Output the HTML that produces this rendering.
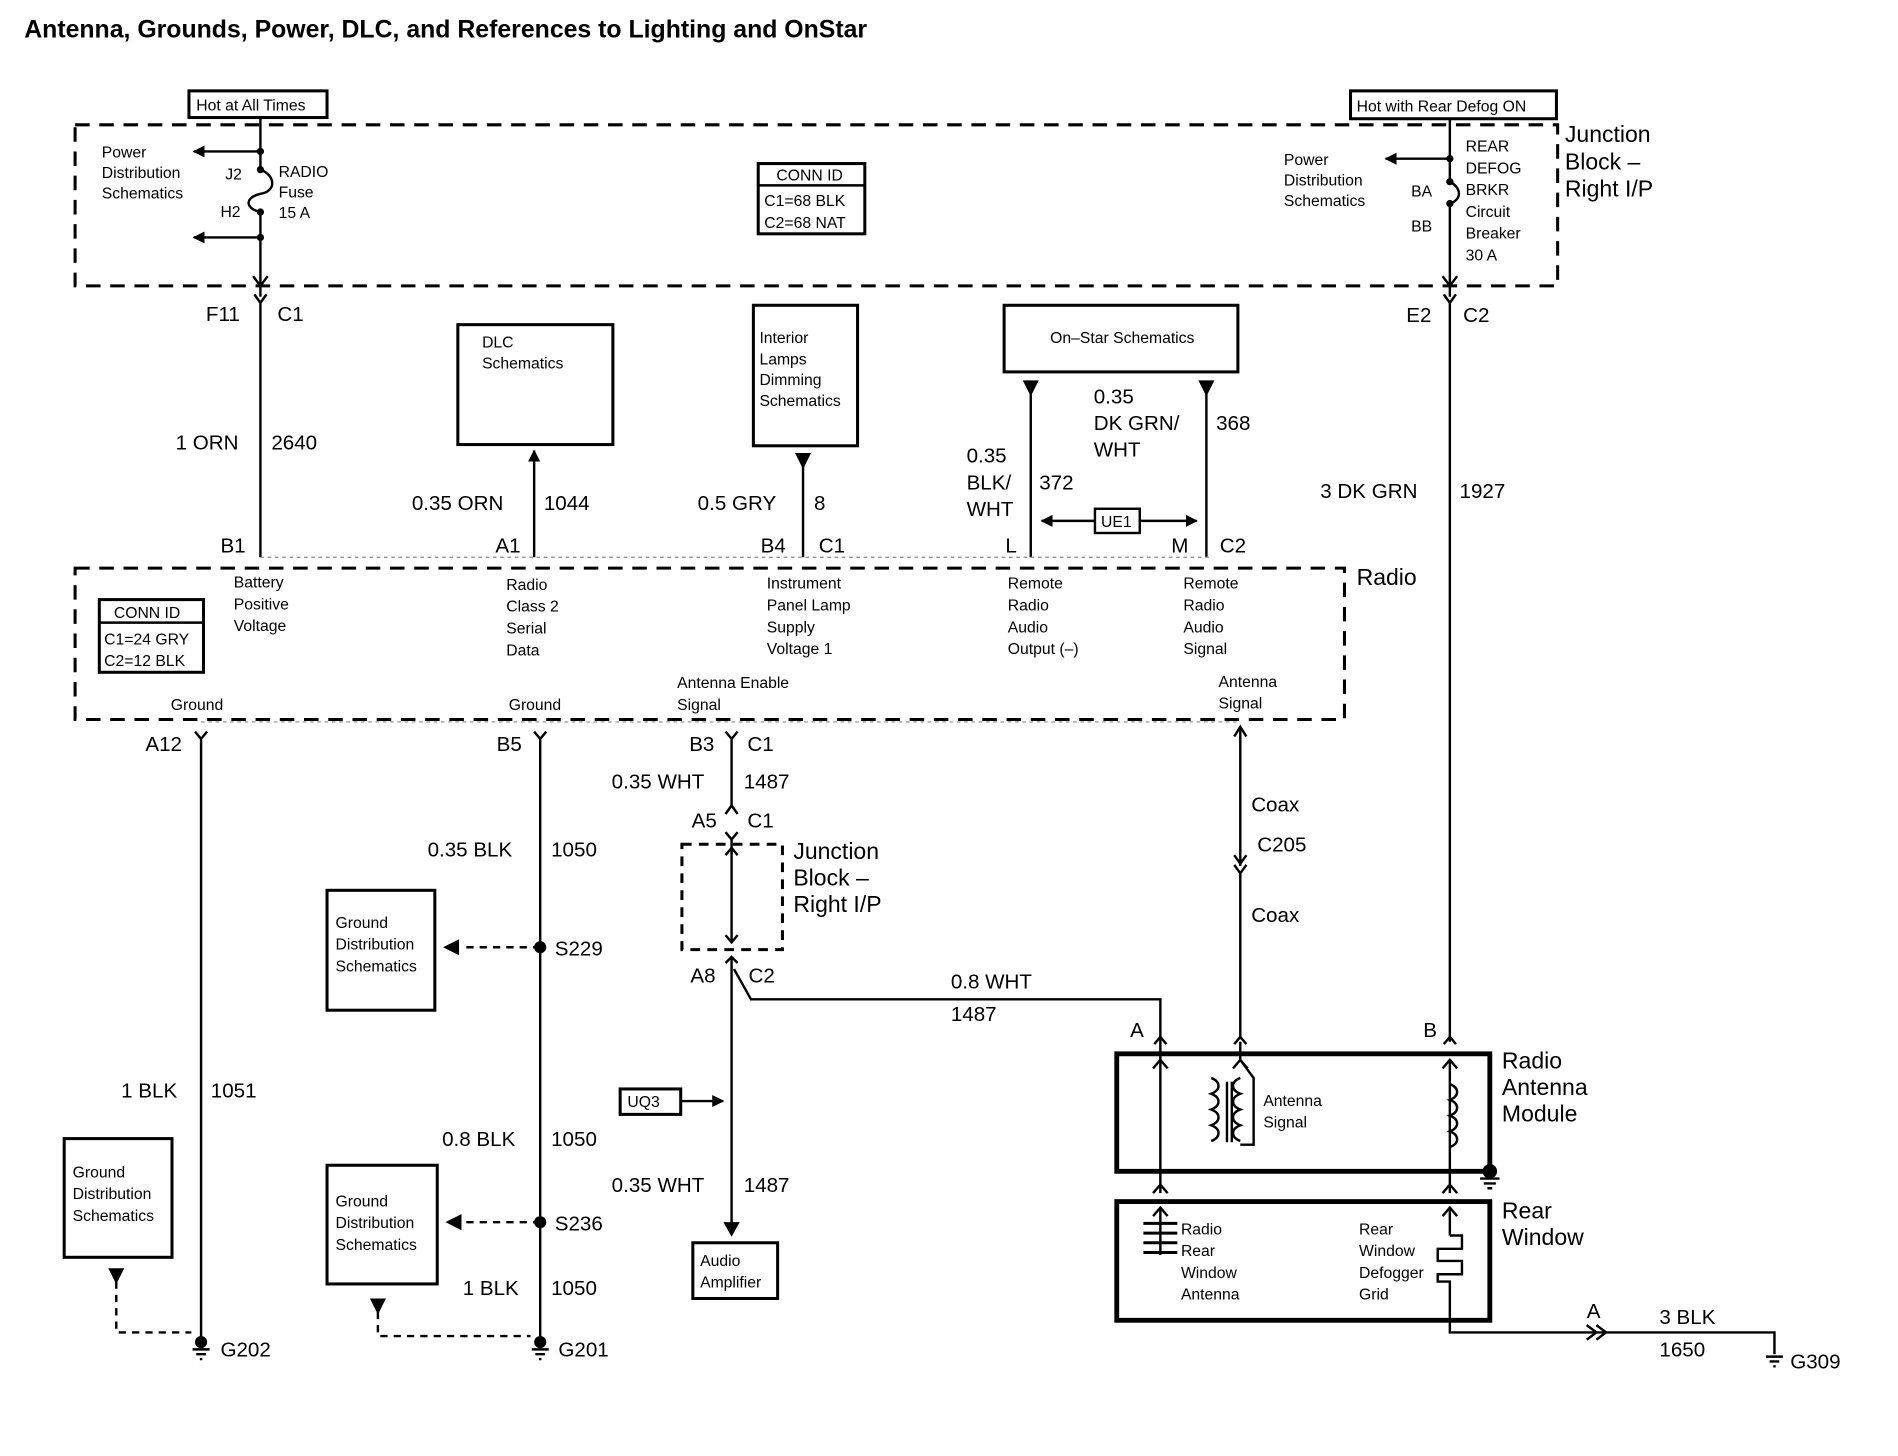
<!DOCTYPE html>
<html><head><meta charset="utf-8"><style>
html,body{margin:0;padding:0;background:#fff;}
svg{display:block;}
text{font-family:"Liberation Sans",Arial,sans-serif;fill:#000;}
.s{font-size:13px;}
.m{font-size:17px;}
.l{font-size:19px;}
</style></head><body>
<svg width="1898" height="1456" viewBox="0 0 1567 1202" xmlns="http://www.w3.org/2000/svg">
<defs>
<marker id="af" markerWidth="10" markerHeight="10" refX="9" refY="5" orient="auto" markerUnits="userSpaceOnUse"><path d="M0,0 L10,5 L0,10 z" fill="#000"/></marker>
</defs>
<g stroke="#000" fill="none" stroke-width="2">
<rect x="156" y="75" width="114" height="22" stroke-width="2.5"/>
<rect x="1115" y="75" width="170" height="23" stroke-width="2.5"/>
<rect x="62" y="103" width="1224" height="133" stroke-dasharray="12,8" stroke-width="2.5"/>
<rect x="626" y="135" width="88" height="58" stroke-width="2.5"/>
<line x1="626" y1="153" x2="714" y2="153"/>
<path d="M215,97 V140 C228,145 228,158 215,160 C202,163 202,172 215,175 V245"/>
<line x1="215" y1="125" x2="160" y2="125" marker-end="url(#af)"/>
<line x1="215" y1="196" x2="160" y2="196" marker-end="url(#af)"/>
<path d="M209,228 L215,236 L221,228"/>
<path d="M210,243 L215,250 L220,243 M215,250 V460"/>
<path d="M1197,98 V150 C1207,155 1207,165 1197,168 V245"/>
<line x1="1197" y1="131" x2="1144" y2="131" marker-end="url(#af)"/>
<path d="M1191,228 L1197,236 L1203,228"/>
<path d="M1192,243 L1197,250 L1202,243 M1197,250 V860"/>
<rect x="378" y="268" width="128" height="99" stroke-width="2.5"/>
<line x1="441" y1="460" x2="441" y2="372" marker-end="url(#af)"/>
<rect x="622" y="252" width="86" height="116" stroke-width="2.5"/>
<line x1="663" y1="460" x2="663" y2="375"/>
<path d="M658,375 L668,375 L663,385 z" fill="#000"/>
<rect x="829" y="252" width="193" height="55" stroke-width="2.5"/>
<line x1="851" y1="315" x2="851" y2="460"/>
<path d="M846,315 L856,315 L851,325 z" fill="#000"/>
<line x1="996" y1="315" x2="996" y2="460"/>
<path d="M991,315 L1001,315 L996,325 z" fill="#000"/>
<rect x="904" y="420" width="37" height="20" stroke-width="2"/>
<line x1="904" y1="430" x2="860" y2="430" marker-end="url(#af)"/>
<line x1="941" y1="430" x2="988" y2="430" marker-end="url(#af)"/>
<rect x="62" y="469" width="1048" height="125" stroke-dasharray="12,8" stroke-width="2.5"/>
<line x1="215" y1="460" x2="1000" y2="460" stroke-dasharray="3,3" stroke-width="1" stroke="#888"/>
<rect x="82" y="495" width="86" height="60" stroke-width="2.5"/>
<line x1="82" y1="514" x2="168" y2="514"/>
<line x1="166" y1="596" x2="1024" y2="596" stroke-dasharray="3,3" stroke-width="1" stroke="#888"/>
<path d="M161,604 L166,610 L171,604 M166,610 V1105"/>
<rect x="53" y="940" width="89" height="98" stroke-width="2.5"/>
<path d="M96,1058 V1100 H158" stroke-dasharray="6,5"/>
<path d="M91,1048 L101,1048 L96,1058 z" fill="#000"/>
<path d="M441,604 L446,610 L451,604 M446,610 V1105"/>
<rect x="270" y="735" width="89" height="99" stroke-width="2.5"/>
<path d="M446,782 H380" stroke-dasharray="6,5"/>
<path d="M378,777 L378,787 L368,782 z" fill="#000"/>
<rect x="270" y="962" width="91" height="98" stroke-width="2.5"/>
<path d="M446,1009 H382" stroke-dasharray="6,5"/>
<path d="M380,1004 L380,1014 L370,1009 z" fill="#000"/>
<path d="M312,1083 V1103 H438" stroke-dasharray="6,5"/>
<path d="M307,1073 L317,1073 L312,1083 z" fill="#000"/>
<path d="M599,604 L604,610 L609,604 M604,610 V665"/>
<path d="M599,672 L604,665 L609,672"/>
<path d="M599,687 L604,693 L609,687 M604,693 V705"/>
<rect x="563" y="697" width="83" height="87" stroke-dasharray="8,6" stroke-width="2.5"/>
<line x1="604" y1="700" x2="604" y2="778"/>
<path d="M599,706 L604,700 L609,706"/>
<path d="M599,772 L604,778 L609,772"/>
<path d="M599,795 L604,790 L609,795 M604,790 V1016" />
<path d="M599,1010 L604,1019 L609,1010 z" fill="#000"/>
<path d="M606,800 L620,825 H958 V858"/>
<path d="M953,862 L958,856 L963,862"/>
<rect x="512" y="899" width="50" height="21" stroke-width="2.5"/>
<line x1="562" y1="909" x2="597" y2="909" marker-end="url(#af)"/>
<rect x="572" y="1026" width="70" height="46" stroke-width="2.5"/>
<line x1="1024" y1="600" x2="1024" y2="715"/>
<path d="M1019,608 L1024,600 L1029,608"/>
<path d="M1019,706 L1024,713 L1029,706 M1019,714 L1024,721 L1029,714"/>
<line x1="1024" y1="721" x2="1024" y2="858"/>
<path d="M1019,862 L1024,856 L1029,862"/>
<path d="M1192,862 L1197,856 L1202,862"/>
<rect x="922" y="870" width="308" height="97" stroke-width="4"/>
<line x1="958" y1="858" x2="958" y2="985"/>
<path d="M952,882 L958,875 L964,882"/>
<path d="M952,985 L958,978 L964,985"/>
<line x1="1024" y1="860" x2="1024" y2="875"/>
<path d="M1018,882 L1024,875 L1030,882"/>
<path d="M1024,875 L1035,890 V945 H1024"/>
<path d="M1000,890 c8,3 8,10 0,13 c8,3 8,10 0,13 c8,3 8,10 0,13 c8,3 8,10 0,13"/>
<line x1="1013" y1="893" x2="1013" y2="943"/>
<line x1="1017" y1="893" x2="1017" y2="943"/>
<path d="M1024,890 c-8,3 -8,10 0,13 c-8,3 -8,10 0,13 c-8,3 -8,10 0,13 c-8,3 -8,10 0,13"/>
<line x1="1197" y1="875" x2="1197" y2="985"/>
<path d="M1191,882 L1197,875 L1203,882"/>
<path d="M1197,895 c8,3 8,10 0,13 c8,3 8,10 0,13 c8,3 8,10 0,13 c8,3 8,10 0,13"/>
<path d="M1191,985 L1197,978 L1203,985"/>
<circle cx="1230" cy="967" r="5" fill="#000"/>
<path d="M1222,973 H1238 M1225,977 H1235 M1228,981 H1232"/>
<rect x="922" y="992" width="308" height="98" stroke-width="4"/>
<line x1="958" y1="997" x2="958" y2="1036"/>
<path d="M952,1004 L958,997 L964,1004"/>
<path d="M944,1010 H972 M944,1018 H972 M944,1026 H972 M944,1034 H972" stroke-width="2.5"/>
<line x1="1197" y1="997" x2="1197" y2="1020"/>
<path d="M1191,1004 L1197,997 L1203,1004"/>
<path d="M1197,1020 H1207 V1031 H1187 V1041 H1207 V1052 H1187 V1058 H1197 V1100 H1325"/>
<path d="M1310,1094 L1318,1100 L1310,1106 M1318,1094 L1326,1100 L1318,1106"/>
<path d="M1326,1100 H1465 V1118"/>
<path d="M1458,1120 H1472 M1461,1124 H1469 M1464,1128 H1466"/>
<circle cx="166" cy="1108" r="4" fill="#000"/>
<path d="M159,1114 H173 M162,1118 H170 M165,1122 H167"/>
<circle cx="446" cy="1108" r="4" fill="#000"/>
<path d="M439,1114 H453 M442,1118 H450 M445,1122 H447"/>
</g>
<circle cx="215" cy="125" r="3"/><circle cx="215" cy="196" r="3"/><circle cx="215" cy="140" r="3"/><circle cx="215" cy="175" r="3"/>
<circle cx="1197" cy="131" r="3"/><circle cx="1197" cy="150" r="3"/><circle cx="1197" cy="168" r="3"/>
<circle cx="446" cy="782" r="5"/><circle cx="446" cy="1009" r="5"/>
<g>
<text x="20" y="31" font-size="20.5" font-weight="bold">Antenna, Grounds, Power, DLC, and References to Lighting and OnStar</text>
<text class="s" x="162" y="91">Hot at All Times</text>
<text class="s" x="1120" y="92">Hot with Rear Defog ON</text>
<text class="s" x="84" y="130">Power</text><text class="s" x="84" y="147">Distribution</text><text class="s" x="84" y="164">Schematics</text>
<text class="s" x="186" y="148">J2</text><text class="s" x="182" y="179">H2</text>
<text class="s" x="230" y="146">RADIO</text><text class="s" x="230" y="163">Fuse</text><text class="s" x="230" y="180">15 A</text>
<text class="s" x="641" y="149">CONN ID</text><text class="s" x="631" y="170">C1=68 BLK</text><text class="s" x="631" y="188">C2=68 NAT</text>
<text class="s" x="1060" y="136">Power</text><text class="s" x="1060" y="153">Distribution</text><text class="s" x="1060" y="170">Schematics</text>
<text class="s" x="1165" y="162">BA</text><text class="s" x="1165" y="191">BB</text>
<text class="s" x="1210" y="125">REAR</text><text class="s" x="1210" y="143">DEFOG</text><text class="s" x="1210" y="161">BRKR</text><text class="s" x="1210" y="179">Circuit</text><text class="s" x="1210" y="197">Breaker</text><text class="s" x="1210" y="215">30 A</text>
<text class="l" x="1292" y="117">Junction</text><text class="l" x="1292" y="140">Block –</text><text class="l" x="1292" y="162">Right I/P</text>
<text class="m" x="170" y="265">F11</text><text class="m" x="229" y="265">C1</text>
<text class="m" x="1161" y="266">E2</text><text class="m" x="1208" y="266">C2</text>
<text class="m" x="145" y="371">1 ORN</text><text class="m" x="224" y="371">2640</text>
<text class="s" x="398" y="287">DLC</text><text class="s" x="398" y="304">Schematics</text>
<text class="s" x="627" y="283">Interior</text><text class="s" x="627" y="301">Lamps</text><text class="s" x="627" y="318">Dimming</text><text class="s" x="627" y="335">Schematics</text>
<text class="s" x="867" y="283">On–Star Schematics</text>
<text class="m" x="340" y="421">0.35 ORN</text><text class="m" x="449" y="421">1044</text>
<text class="m" x="576" y="421">0.5 GRY</text><text class="m" x="672" y="421">8</text>
<text class="m" x="798" y="382">0.35</text><text class="m" x="798" y="404">BLK/</text><text class="m" x="798" y="426">WHT</text><text class="m" x="858" y="404">372</text>
<text class="m" x="903" y="333">0.35</text><text class="m" x="903" y="355">DK GRN/</text><text class="m" x="903" y="377">WHT</text><text class="m" x="1004" y="355">368</text>
<text class="s" x="909" y="435">UE1</text>
<text class="m" x="1090" y="411">3 DK GRN</text><text class="m" x="1205" y="411">1927</text>
<text class="m" x="182" y="456">B1</text><text class="m" x="409" y="456">A1</text><text class="m" x="628" y="456">B4</text><text class="m" x="676" y="456">C1</text><text class="m" x="830" y="456">L</text><text class="m" x="967" y="456">M</text><text class="m" x="1007" y="456">C2</text>
<text class="l" x="1120" y="483">Radio</text>
<text class="s" x="193" y="485">Battery</text><text class="s" x="193" y="503">Positive</text><text class="s" x="193" y="521">Voltage</text>
<text class="s" x="418" y="487">Radio</text><text class="s" x="418" y="505">Class 2</text><text class="s" x="418" y="523">Serial</text><text class="s" x="418" y="541">Data</text>
<text class="s" x="633" y="486">Instrument</text><text class="s" x="633" y="504">Panel Lamp</text><text class="s" x="633" y="522">Supply</text><text class="s" x="633" y="540">Voltage 1</text>
<text class="s" x="832" y="486">Remote</text><text class="s" x="832" y="504">Radio</text><text class="s" x="832" y="522">Audio</text><text class="s" x="832" y="540">Output (–)</text>
<text class="s" x="977" y="486">Remote</text><text class="s" x="977" y="504">Radio</text><text class="s" x="977" y="522">Audio</text><text class="s" x="977" y="540">Signal</text>
<text class="s" x="94" y="510">CONN ID</text><text class="s" x="86" y="532">C1=24 GRY</text><text class="s" x="86" y="550">C2=12 BLK</text>
<text class="s" x="141" y="586">Ground</text><text class="s" x="420" y="586">Ground</text>
<text class="s" x="559" y="568">Antenna Enable</text><text class="s" x="559" y="586">Signal</text>
<text class="s" x="1006" y="567">Antenna</text><text class="s" x="1006" y="585">Signal</text>
<text class="m" x="120" y="620">A12</text><text class="m" x="410" y="620">B5</text><text class="m" x="569" y="620">B3</text><text class="m" x="617" y="620">C1</text>
<text class="m" x="505" y="651">0.35 WHT</text><text class="m" x="614" y="651">1487</text>
<text class="m" x="571" y="683">A5</text><text class="m" x="617" y="683">C1</text>
<text class="l" x="655" y="709">Junction</text><text class="l" x="655" y="731">Block –</text><text class="l" x="655" y="753">Right I/P</text>
<text class="m" x="570" y="811">A8</text><text class="m" x="618" y="811">C2</text>
<text class="m" x="785" y="816">0.8 WHT</text><text class="m" x="785" y="843">1487</text>
<text class="m" x="1033" y="670">Coax</text><text class="m" x="1038" y="703">C205</text><text class="m" x="1033" y="761">Coax</text>
<text class="m" x="353" y="707">0.35 BLK</text><text class="m" x="455" y="707">1050</text>
<text class="s" x="277" y="766">Ground</text><text class="s" x="277" y="784">Distribution</text><text class="s" x="277" y="802">Schematics</text>
<text class="m" x="458" y="789">S229</text>
<text class="m" x="100" y="906">1 BLK</text><text class="m" x="174" y="906">1051</text>
<text class="s" x="60" y="972">Ground</text><text class="s" x="60" y="990">Distribution</text><text class="s" x="60" y="1008">Schematics</text>
<text class="s" x="518" y="914">UQ3</text>
<text class="m" x="365" y="946">0.8 BLK</text><text class="m" x="455" y="946">1050</text>
<text class="s" x="277" y="996">Ground</text><text class="s" x="277" y="1014">Distribution</text><text class="s" x="277" y="1032">Schematics</text>
<text class="m" x="458" y="1016">S236</text>
<text class="m" x="505" y="984">0.35 WHT</text><text class="m" x="614" y="984">1487</text>
<text class="s" x="578" y="1045">Audio</text><text class="s" x="578" y="1063">Amplifier</text>
<text class="m" x="382" y="1069">1 BLK</text><text class="m" x="455" y="1069">1050</text>
<text class="m" x="182" y="1120">G202</text><text class="m" x="461" y="1120">G201</text>
<text class="m" x="933" y="856">A</text><text class="m" x="1175" y="856">B</text>
<text class="l" x="1240" y="882">Radio</text><text class="l" x="1240" y="904">Antenna</text><text class="l" x="1240" y="926">Module</text>
<text class="s" x="1043" y="913">Antenna</text><text class="s" x="1043" y="931">Signal</text>
<text class="l" x="1240" y="1006">Rear</text><text class="l" x="1240" y="1028">Window</text>
<text class="s" x="975" y="1019">Radio</text><text class="s" x="975" y="1037">Rear</text><text class="s" x="975" y="1055">Window</text><text class="s" x="975" y="1073">Antenna</text>
<text class="s" x="1122" y="1019">Rear</text><text class="s" x="1122" y="1037">Window</text><text class="s" x="1122" y="1055">Defogger</text><text class="s" x="1122" y="1073">Grid</text>
<text class="m" x="1310" y="1088">A</text>
<text class="m" x="1370" y="1093">3 BLK</text><text class="m" x="1370" y="1120">1650</text>
<text class="m" x="1478" y="1130">G309</text>
</g>
</svg>
</body></html>
